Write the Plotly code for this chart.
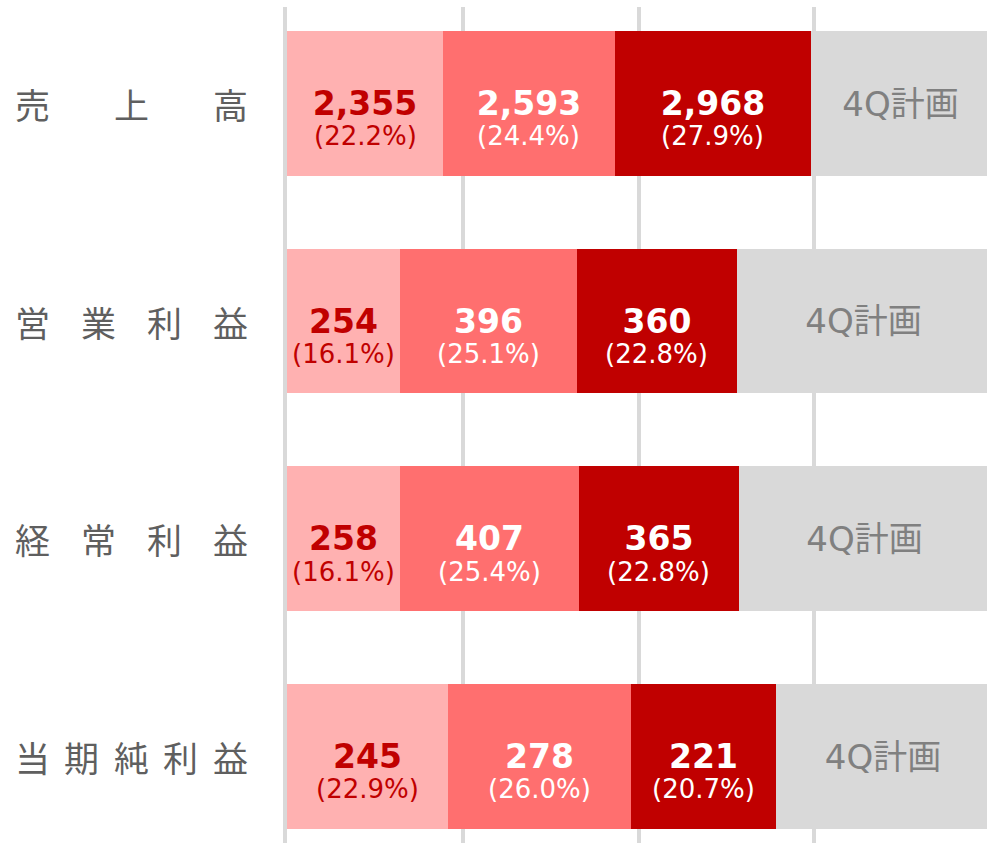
import plotly.graph_objects as go

# ---- data ----
categories = ["売上高", "営業利益", "経常利益", "当期純利益"]
q1_values = [2355, 254, 258, 245]
q2_values = [2593, 396, 407, 278]
q3_values = [2968, 360, 365, 221]
q1_pct = [22.2, 16.1, 16.1, 22.9]
q2_pct = [24.4, 25.1, 25.4, 26.0]
q3_pct = [27.9, 22.8, 22.8, 20.7]
plan_label = "4Q計画"
grid_ticks = [0, 25, 50, 75]

plan_pct = [round(100 - a - b - c, 1) for a, b, c in zip(q1_pct, q2_pct, q3_pct)]
ypos = list(range(len(categories)))

LATIN = "DejaVu Sans, Noto Sans CJK JP, sans-serif"
CJK = "Noto Sans CJK JP, sans-serif"

fig = go.Figure()
series = [
    (q1_values, q1_pct, "#FFB1B1", "#C00000"),
    (q2_values, q2_pct, "#FF6F6F", "#FFFFFF"),
    (q3_values, q3_pct, "#C00000", "#FFFFFF"),
]
for vals, pcts, color, tcolor in series:
    fig.add_trace(go.Bar(
        y=ypos, x=pcts, orientation="h", width=0.666,
        marker=dict(color=color, line=dict(width=0)),
        text=[f"<b>{v:,}</b>" for v in vals],
        textposition="inside", insidetextanchor="middle",
        textangle=0, constraintext="none",
        textfont=dict(family=LATIN, size=33, color=tcolor),
        hoverinfo="skip",
    ))

fig.add_trace(go.Bar(
    y=ypos, x=plan_pct, orientation="h", width=0.666,
    marker=dict(color="#D9D9D9", line=dict(width=0)),
    text=[plan_label] * len(categories), textposition="inside",
    insidetextanchor="middle", textangle=0, constraintext="none",
    textfont=dict(family=LATIN, size=34, color="#808080"),
    hoverinfo="skip",
))

# plot area spans page x 287..987, y 7..843
PLOT_L, PLOT_T = 287, 7
W, H = 987, 843
PLOT_W = W - PLOT_L
SCALE = 7.03  # px per percent

annotations = []

# percentage lines under the values, centred on each segment
for i in ypos:
    start = 0.0
    for vals, pcts, color, tcolor in series:
        p = pcts[i]
        annotations.append(dict(
            x=start + p / 2, xref="x", y=i, yref="y", yshift=-33,
            text=f"({p:.1f}%)", showarrow=False,
            xanchor="center", yanchor="middle",
            font=dict(family=LATIN, size=26, color=tcolor),
        ))
        start += p

# category labels, characters spread evenly across the label column
left_c, right_c = 32, 230
for i, name in enumerate(categories):
    n = len(name)
    for k, ch in enumerate(name):
        px = left_c + (right_c - left_c) * k / (n - 1)
        annotations.append(dict(
            x=(px - PLOT_L) / PLOT_W, xref="paper", y=i, yref="y",
            text=ch, showarrow=False, xanchor="center", yanchor="middle",
            font=dict(family=CJK, size=35, color="#5F5F5F"),
        ))

unit = 217.7
top_val = -(103.3 - PLOT_T) / unit
bot_val = top_val + (H - PLOT_T) / unit

fig.update_layout(
    barmode="stack",
    width=W, height=H,
    margin=dict(l=PLOT_L, r=0, t=PLOT_T, b=0, pad=0),
    paper_bgcolor="white", plot_bgcolor="white",
    showlegend=False,
    bargap=0,
    annotations=annotations,
    xaxis=dict(
        range=[0, PLOT_W / SCALE], tickvals=grid_ticks, showgrid=True,
        gridcolor="#D9D9D9", gridwidth=4, zeroline=False,
        showticklabels=False, showline=False, fixedrange=True,
    ),
    yaxis=dict(
        range=[bot_val, top_val], showgrid=False, zeroline=False,
        showticklabels=False, showline=True, linecolor="#D9D9D9",
        linewidth=4, fixedrange=True,
    ),
)

fig.write_html(
    "out.html",
    config={"displayModeBar": False},
    post_script="document.documentElement.style.overflow='hidden';"
                "document.body.style.margin='0';"
                "document.body.style.overflow='hidden';",
)
